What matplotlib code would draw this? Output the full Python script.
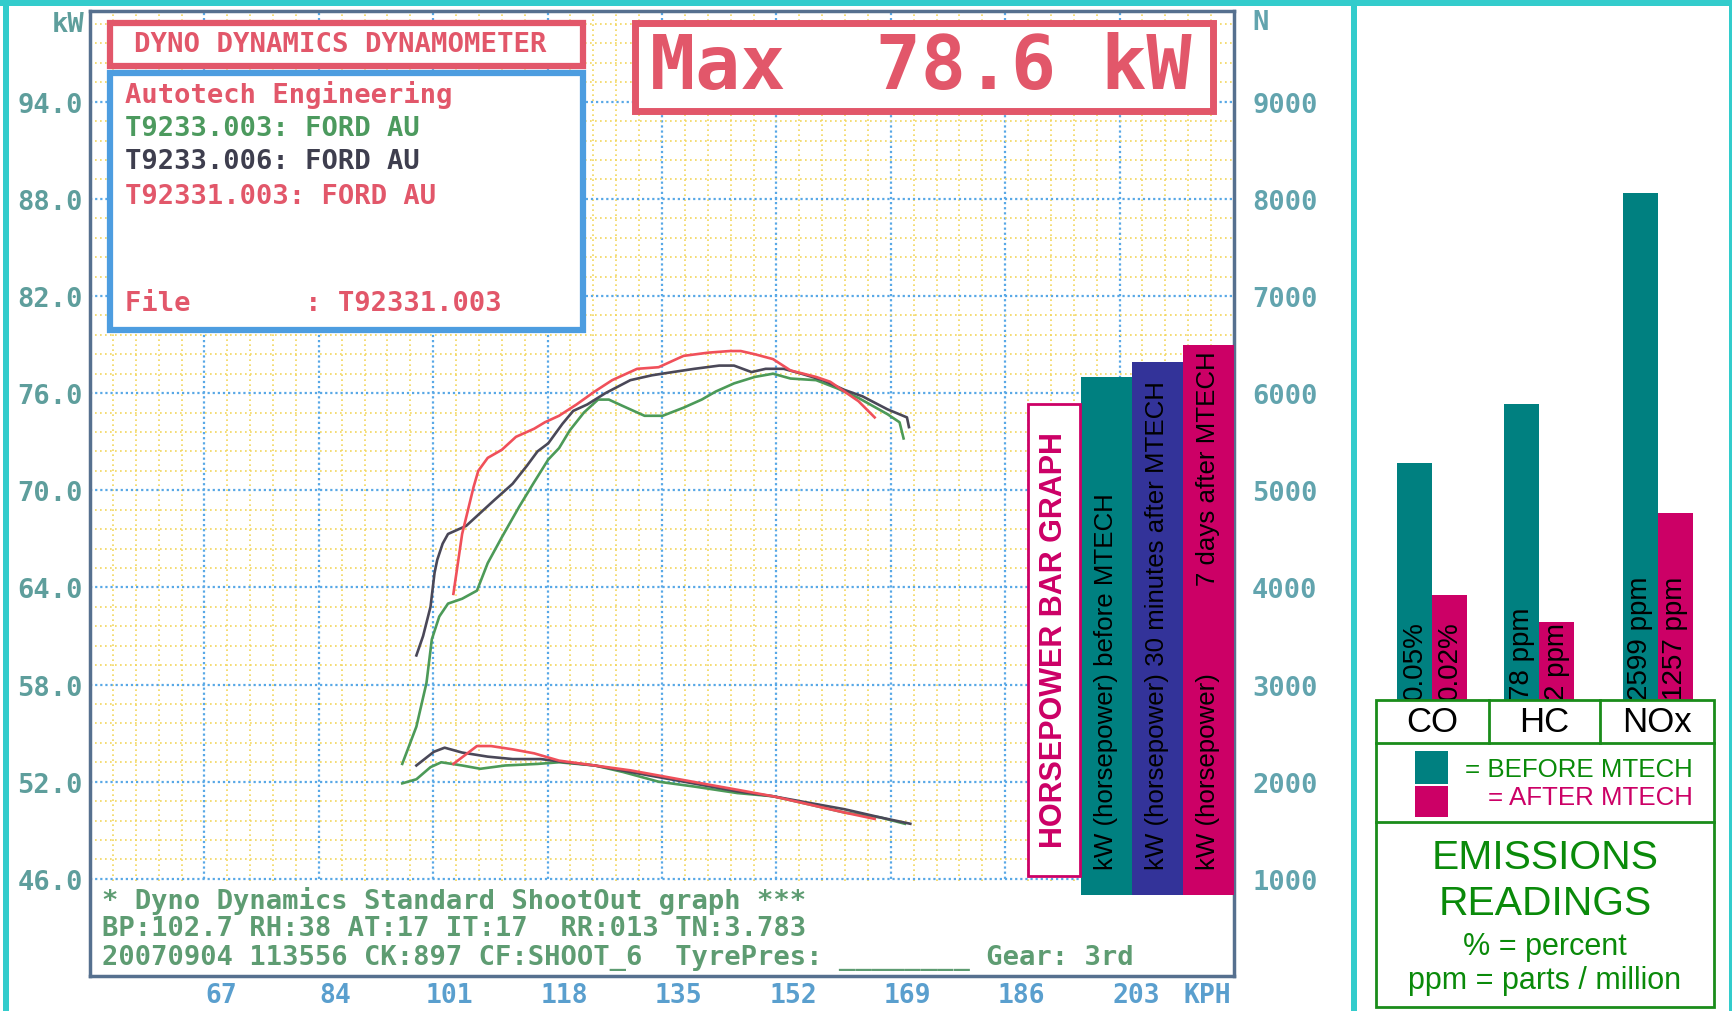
import matplotlib
matplotlib.use("Agg")
import matplotlib.pyplot as plt
from matplotlib.patches import Rectangle
import numpy as np

W, H = 1733, 1012

# ---- dyno runs: road speed (kph) vs wheel power (kW) ----
green_kph = [96.4, 98.5, 100.0, 100.8, 101.9, 103.2, 105.3, 107.5, 109.1, 111.2, 113.8, 116.0,
             118.1, 119.7, 121.3, 123.4, 125.5, 127.1, 129.2, 132.4, 135.1, 138.2, 140.9, 143.0,
             145.7, 148.8, 151.5, 154.1, 157.9, 161.0, 164.2, 168.5, 170.3, 170.9]
green_kw = [53.1, 55.4, 58.1, 60.8, 62.2, 63.0, 63.3, 63.8, 65.5, 67.1, 69.0, 70.5,
            71.9, 72.6, 73.7, 74.8, 75.6, 75.6, 75.2, 74.6, 74.6, 75.1, 75.6, 76.1,
            76.6, 77.0, 77.2, 76.9, 76.8, 76.3, 75.7, 74.7, 74.2, 73.2]

black_kph = [98.5, 99.5, 100.6, 101.2, 101.6, 102.4, 103.2, 105.9, 108.0, 110.1, 112.8, 114.9,
             116.5, 118.1, 120.2, 121.8, 123.9, 126.6, 130.3, 133.5, 136.6, 139.8, 143.5, 145.7,
             148.3, 150.4, 153.1, 155.7, 158.9, 162.1, 164.8, 168.5, 171.4, 171.7]
black_kw = [59.8, 61.0, 62.8, 64.9, 65.7, 66.7, 67.3, 67.8, 68.6, 69.4, 70.4, 71.5,
            72.4, 72.9, 74.1, 74.9, 75.3, 76.0, 76.8, 77.1, 77.3, 77.5, 77.7, 77.7,
            77.3, 77.5, 77.5, 77.2, 76.8, 76.2, 75.8, 75.0, 74.5, 73.9]

red_kph = [104.0, 105.3, 107.0, 107.7, 109.1, 111.2, 113.3, 116.0, 117.6, 119.7, 122.3, 125.0,
           127.6, 131.3, 134.5, 138.2, 141.9, 145.1, 146.7, 148.8, 151.5, 154.1, 157.9, 160.0,
           162.1, 164.2, 166.6]
red_kw = [63.6, 67.3, 70.2, 71.2, 72.0, 72.5, 73.3, 73.8, 74.2, 74.6, 75.3, 76.1,
          76.8, 77.5, 77.6, 78.3, 78.5, 78.6, 78.6, 78.4, 78.1, 77.4, 77.0, 76.7,
          76.1, 75.5, 74.5]

# ---- tractive effort (N) ----
green_te_kph = [96.4, 98.5, 100.6, 102.2, 105.3, 108.0, 111.7, 116.5, 119.7, 125.0, 129.2,
                134.5, 139.8, 146.2, 151.5, 156.8, 162.1, 167.4, 171.1]
green_te_n = [1983, 2025, 2150, 2200, 2167, 2133, 2167, 2183, 2200, 2167, 2100,
              2000, 1950, 1883, 1850, 1767, 1683, 1633, 1567]
black_te_kph = [98.5, 101.1, 102.7, 105.3, 109.1, 112.8, 117.0, 120.7, 125.0, 130.3, 135.6,
                140.9, 146.2, 151.5, 156.8, 162.1, 167.4, 171.9]
black_te_n = [2167, 2308, 2350, 2300, 2258, 2233, 2233, 2200, 2167, 2100, 2033,
              1967, 1900, 1850, 1783, 1717, 1633, 1567]
red_te_kph = [104.0, 105.9, 107.5, 109.6, 112.8, 116.0, 119.7, 125.0, 130.3, 135.6, 140.9,
              146.2, 151.5, 156.8, 162.1, 166.6]
red_te_n = [2183, 2283, 2367, 2367, 2333, 2292, 2217, 2167, 2117, 2050, 1983,
            1917, 1850, 1767, 1683, 1617]

kph_ticks = [67, 84, 101, 118, 135, 152, 169, 186, 203]
kw_ticks = [46, 52, 58, 64, 70, 76, 82, 88, 94]
n_ticks = [1000, 2000, 3000, 4000, 5000, 6000, 7000, 8000, 9000]

# ---- horsepower bar graph (kW) ----
hp_labels = ["kW (horsepower) before MTECH",
             "kW (horsepower) 30 minutes after MTECH",
             "kW (horsepower)            7 days after MTECH"]
hp_pos = [201.0, 208.6, 216.2]
hp_tops = [77.0, 77.9, 79.0]
hp_colors = ["#008080", "#333399", "#CC0066"]

# ---- emissions (bar heights as drawn, arbitrary units) ----
gases = ["CO", "HC", "NOx"]
gas_pos = [0.0, 0.95, 2.0]
before_h = [238, 297, 508]
after_h = [106, 79, 188]
before_txt = ["0.05%", "78 ppm", "2599 ppm"]
after_txt = ["0.02%", "2 ppm", "1257 ppm"]

MONO = "DejaVu Sans Mono"
SANS = "Liberation Sans"
RED = "#E2576A"
TEAL = "#008080"
MAG = "#CC0066"
EGREEN = "#0A8A0A"


def fx(px):
    return px / W


def fy(py):
    return 1 - py / H


fig = plt.figure(figsize=(W / 100, H / 100), dpi=100)


def box(x0, y0, x1, y1, **kw):
    fig.add_artist(Rectangle((fx(x0), fy(y1)), fx(x1) - fx(x0), fy(y0) - fy(y1),
                             transform=fig.transFigure, **kw))


# main dyno axes
ax = fig.add_axes([fx(90), fy(977), fx(1234) - fx(90), fy(12) - fy(977)])
ax.set_xlim(50, 220)
ax.set_ylim(40, 99.6)

minor_x = [v for v in np.arange(50, 220.01, 3.4) if min(abs(v - t) for t in kph_ticks) > 0.5]
minor_y = [v for v in np.arange(46, 99.7, 1.2) if min(abs(v - t) for t in kw_ticks) > 0.3]
ax.set_xticks(kph_ticks)
ax.set_xticks(minor_x, minor=True)
ax.set_yticks(kw_ticks)
ax.set_yticks(minor_y, minor=True)
ax.grid(which="minor", color="#F2D65C", lw=1.2, ls=(0, (1, 2)))
ax.grid(which="major", color="#58A8E6", lw=1.6, ls=(0, (1, 1.3)))
ax.set_axisbelow(True)
ax.tick_params(which="both", length=0)
ax.set_xticklabels([])
ax.set_yticklabels([f"{v:.1f}" for v in kw_ticks], fontfamily=MONO, fontweight="bold",
                   fontsize=19.5, color="#5E9E9C")
ax.tick_params(axis="y", pad=5)
for s in ax.spines.values():
    s.set_color("#56708F")
    s.set_linewidth(2.5)

# blank strip for the run info
ax.add_patch(Rectangle((50, 40), 170, 5.85, facecolor="white", edgecolor="none", zorder=0.8))

for v in kph_ticks:
    ax.annotate(str(v), xy=(v, 0), xycoords=("data", "axes fraction"), xytext=(12, -14),
                textcoords="offset points", ha="center", va="center", fontfamily=MONO,
                fontweight="bold", fontsize=19, color="#5A9FCE", annotation_clip=False)

ax.plot(green_kph, green_kw, color="#4C9A58", lw=1.9, zorder=3)
ax.plot(black_kph, black_kw, color="#4A4858", lw=1.9, zorder=3)
ax.plot(red_kph, red_kw, color="#F0505A", lw=1.9, zorder=3)

ax2 = ax.twinx()
ax2.set_ylim(0, 9933.3)
ax2.plot(green_te_kph, green_te_n, color="#4C9A58", lw=1.9)
ax2.plot(black_te_kph, black_te_n, color="#4A4858", lw=1.9)
ax2.plot(red_te_kph, red_te_n, color="#F0505A", lw=1.9)
ax2.set_yticks(n_ticks)
ax2.set_yticklabels([str(v) for v in n_ticks], fontfamily=MONO, fontweight="bold",
                    fontsize=19.5, color="#62A4AE")
ax2.tick_params(length=0, pad=13)
for s in ax2.spines.values():
    s.set_visible(False)

# horsepower bar graph
ax.bar(hp_pos, [t - 45.0 for t in hp_tops], bottom=45.0, width=7.6, color=hp_colors, zorder=4)
for x, lab in zip(hp_pos, hp_labels):
    ax.text(x, 46.6, lab, rotation=90, rotation_mode="anchor", ha="left", va="center",
            fontfamily=SANS, fontsize=18.6, color="black", zorder=5)
ax.add_patch(Rectangle((189.4, 46.2), 7.7, 29.1, facecolor="white", edgecolor=MAG, lw=2, zorder=4))
ax.text(193.25, 60.8, "HORSEPOWER BAR GRAPH", rotation=90, ha="center", va="center",
        fontfamily=SANS, fontweight="bold", fontsize=22, color=MAG, zorder=5)

fig.text(fx(85), fy(25), "kW", ha="right", va="center", fontfamily=MONO, fontweight="bold",
         fontsize=19.5, color="#5E9E9C")
fig.text(fx(1252), fy(23), "N", ha="left", va="center", fontfamily=MONO, fontweight="bold",
         fontsize=19.5, color="#62A4AE")
fig.text(fx(1207), fy(996), "KPH", ha="center", va="center", fontfamily=MONO, fontweight="bold",
         fontsize=19, color="#5A9FCE")

# header boxes
box(110, 24, 583, 67, facecolor="white", edgecolor=RED, lw=4.5)
fig.text(fx(340), fy(45.5), "DYNO DYNAMICS DYNAMOMETER", ha="center", va="center",
         fontfamily=MONO, fontweight="bold", fontsize=19.7, color=RED)
box(110, 74, 583, 331, facecolor="white", edgecolor="#4D9DE0", lw=4.5)
info = [("Autotech Engineering", RED, 95),
        ("T9233.003: FORD AU", "#4C9A5E", 129),
        ("T9233.006: FORD AU", "#3E3E4E", 162),
        ("T92331.003: FORD AU", RED, 197),
        ("File       : T92331.003", RED, 304)]
for txt, col, py in info:
    fig.text(fx(125), fy(py), txt, ha="left", va="center", fontfamily=MONO, fontweight="bold",
             fontsize=19.5, color=col)
box(635, 24, 1213, 112, facecolor="white", edgecolor=RED, lw=5)
fig.text(fx(650), fy(68), "Max  78.6 kW", ha="left", va="center", fontfamily=MONO,
         fontweight="bold", fontsize=54, color=RED)

run_info = ["* Dyno Dynamics Standard ShootOut graph ***",
            "BP:102.7 RH:38 AT:17 IT:17  RR:013 TN:3.783",
            "20070904 113556 CK:897 CF:SHOOT_6  TyrePres: ________ Gear: 3rd"]
for txt, py in zip(run_info, [901, 929, 958]):
    fig.text(fx(102), fy(py), txt, ha="left", va="center", fontfamily=MONO, fontweight="bold",
             fontsize=19.5, color="#5E9C72")

# emissions panel
eax = fig.add_axes([fx(1376), fy(702), fx(1714) - fx(1376), fy(12) - fy(702)])
eax.set_xlim(-0.5, 2.5)
eax.set_ylim(0, 690)
eax.axis("off")
gp = np.array(gas_pos)
eax.bar(gp - 0.155, before_h, 0.31, color=TEAL)
eax.bar(gp + 0.155, after_h, 0.31, color=MAG)
for x, t in zip(gp - 0.155, before_txt):
    eax.text(x, 2, t, rotation=90, rotation_mode="anchor", ha="left", va="center",
             fontfamily=SANS, fontsize=20, color="black")
for x, t in zip(gp + 0.155, after_txt):
    eax.text(x, 2, t, rotation=90, rotation_mode="anchor", ha="left", va="center",
             fontfamily=SANS, fontsize=20, color="black")

box(1376, 701, 1714, 1008, facecolor="none", edgecolor="#1A8C1A", lw=2)
fig.add_artist(plt.Line2D([fx(1376), fx(1714)], [fy(744), fy(744)], color="#1A8C1A", lw=2))
fig.add_artist(plt.Line2D([fx(1376), fx(1714)], [fy(823), fy(823)], color="#1A8C1A", lw=2))
for px in [1489, 1600]:
    fig.add_artist(plt.Line2D([fx(px), fx(px)], [fy(701), fy(744)], color="#1A8C1A", lw=2))
for g, px in zip(gases, [1432, 1544, 1657]):
    fig.text(fx(px), fy(723), g, ha="center", va="center", fontfamily=SANS, fontsize=25,
             color="black")

box(1415, 752, 1448, 785, facecolor=TEAL, edgecolor="none")
box(1415, 787, 1448, 818, facecolor=MAG, edgecolor="none")
fig.text(fx(1693), fy(770), "= BEFORE MTECH", ha="right", va="center", fontfamily=SANS,
         fontsize=18.6, color=EGREEN)
fig.text(fx(1693), fy(798), "= AFTER MTECH", ha="right", va="center", fontfamily=SANS,
         fontsize=18.6, color=MAG)
fig.text(fx(1545), fy(858), "EMISSIONS", ha="center", va="center", fontfamily=SANS,
         fontsize=29.4, color=EGREEN)
fig.text(fx(1545), fy(904), "READINGS", ha="center", va="center", fontfamily=SANS,
         fontsize=29.4, color=EGREEN)
fig.text(fx(1545), fy(947), "% = percent", ha="center", va="center", fontfamily=SANS,
         fontsize=22, color=EGREEN)
fig.text(fx(1545), fy(981), "ppm = parts / million", ha="center", va="center", fontfamily=SANS,
         fontsize=22, color=EGREEN)

# cyan frame
CYAN = "#33CCCC"
box(0, 0, W, 7, facecolor=CYAN, edgecolor="none")
box(3, 0, 9, H, facecolor=CYAN, edgecolor="none")
box(1351, 0, 1357, H, facecolor=CYAN, edgecolor="none")
box(1729, 0, W, H, facecolor=CYAN, edgecolor="none")

fig.savefig("out.png", dpi=100)
